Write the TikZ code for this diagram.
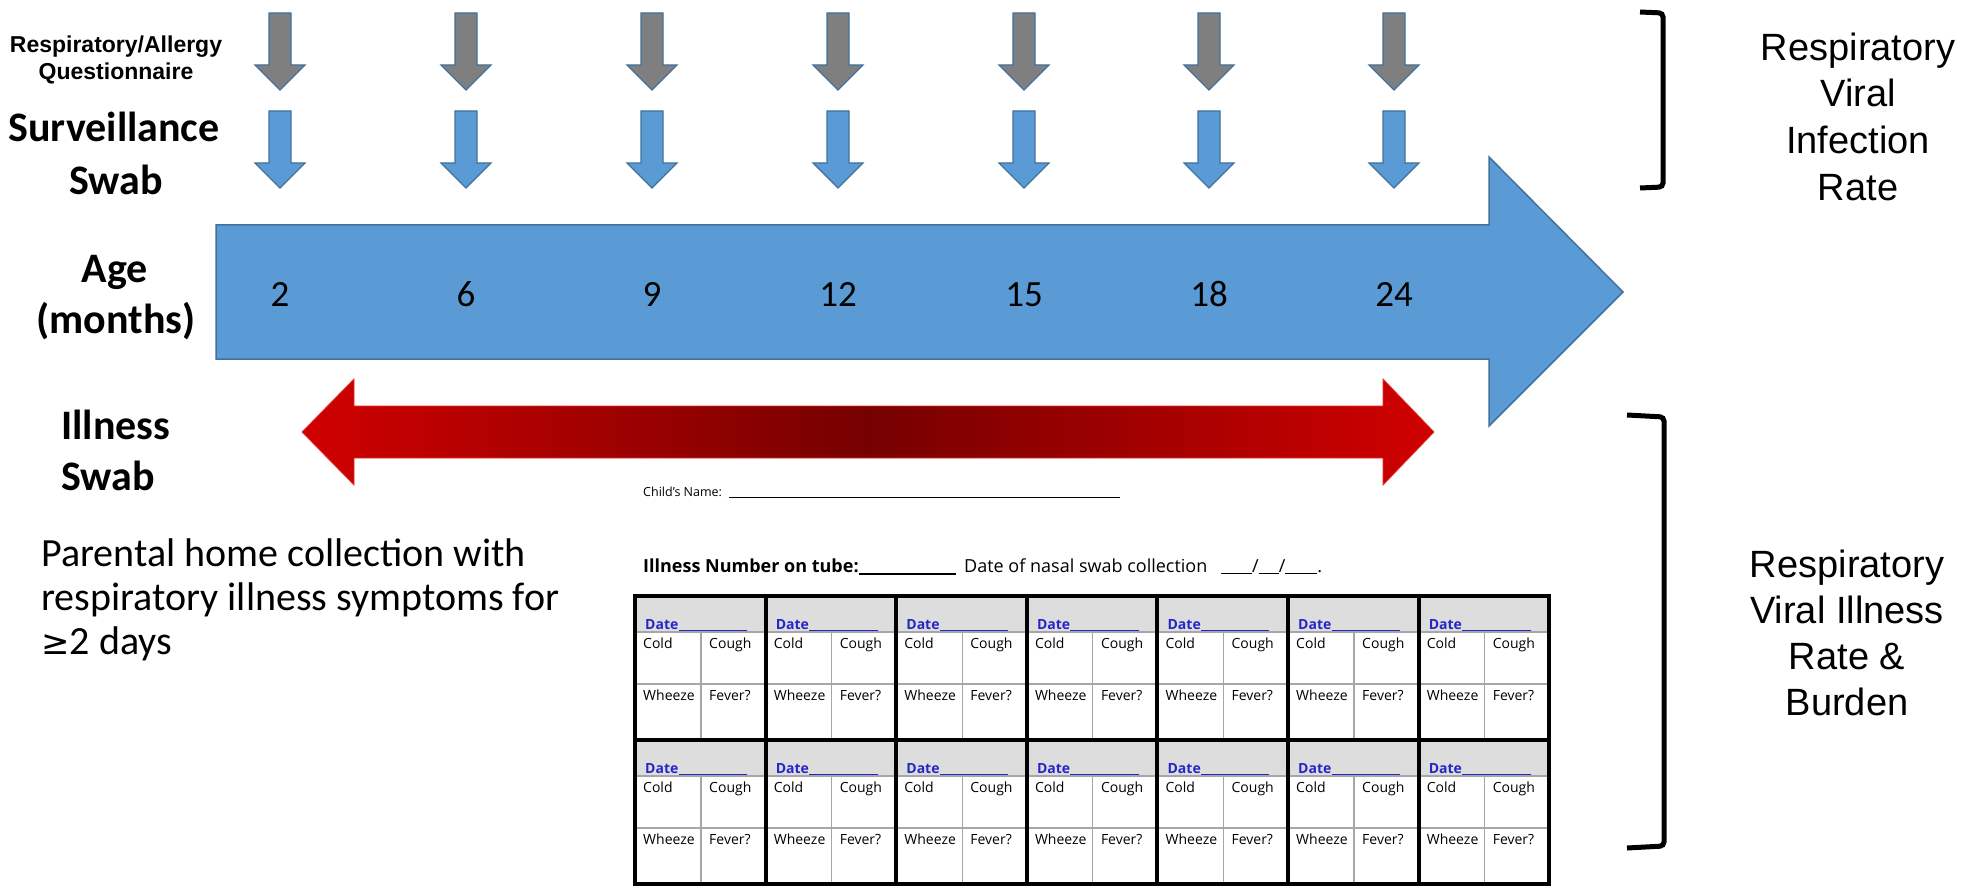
\documentclass[tikz,border=0pt]{standalone}
\usepackage{fontspec}
\setmainfont{Carlito}
\newfontfamily\arialfont{Liberation Sans}
\newfontfamily\formfont{Open Sans}
\newfontfamily\symfont{DejaVu Sans}
\definecolor{arrowblue}{HTML}{5B9BD5}
\definecolor{arrowedge}{HTML}{41719C}
\definecolor{arrowgray}{HTML}{7F7F7F}
\definecolor{redlight}{HTML}{D00000}
\definecolor{reddark}{HTML}{760000}
\definecolor{rededge}{HTML}{E83030}
\definecolor{hdrgray}{HTML}{DDDDDD}
\definecolor{thingray}{HTML}{A6A6A6}
\definecolor{dateblue}{HTML}{2626C8}
\tikzset{
  grayarr/.style={fill=arrowgray, draw=arrowedge, line width=1.2pt},
  bluearr/.style={fill=arrowblue, draw=arrowedge, line width=1.2pt},
  bigarr/.style={fill=arrowblue, draw=arrowedge, line width=1.5pt},
  lblbold/.style={font=\bfseries\fontsize{42}{50}\selectfont, anchor=base},
  lblq/.style={font=\arialfont\bfseries\fontsize{23}{28}\selectfont, anchor=base},
  agenum/.style={font=\fontsize{37}{44}\selectfont, anchor=base},
  para/.style={font=\fontsize{40}{47}\selectfont, anchor=base west},
  outcome/.style={font=\arialfont\fontsize{38}{47}\selectfont, anchor=base},
  bracketline/.style={line width=5pt, rounded corners=4pt},
  formtxt/.style={font=\formfont\fontsize{14}{17}\selectfont, anchor=base west},
  datetxt/.style={font=\formfont\bfseries\fontsize{14}{17}\selectfont, text=dateblue, anchor=base west},
  thickgrid/.style={line width=4pt},
  thingrid/.style={line width=1.2pt, draw=thingray},
}
\begin{document}
\begin{tikzpicture}[x=1pt,y=-1pt, every node/.style={inner sep=0pt}]
\useasboundingbox[fill=white] (0,0) rectangle (1961,893);

% small arrows
\foreach \x in {280,466,652,838,1024,1209,1394} {
  \filldraw[grayarr] (\x-11,13) -- (\x+11,13) -- (\x+11,65) -- (\x+25,65) -- (\x,90) -- (\x-25,65) -- (\x-11,65) -- cycle;
  \filldraw[bluearr] (\x-11,111) -- (\x+11,111) -- (\x+11,163) -- (\x+25,163) -- (\x,188) -- (\x-25,163) -- (\x-11,163) -- cycle;
}

% big timeline arrow
\filldraw[bigarr] (216,225) -- (1489,225) -- (1489,157) -- (1623,292) -- (1489,426) -- (1489,359) -- (216,359) -- cycle;
\foreach \x/\t [count=\i] in {280/2,466/6,652/9,838/12,1024/15,1209/18,1394/24} {
  \node[agenum] (age\i) at (\x,306) {\t};
}

% red double arrow
\shade[left color=redlight, right color=redlight, middle color=reddark]
  (302,432) -- (354,379) -- (354,406) -- (1383,406) -- (1383,379) -- (1434,432) -- (1383,485) -- (1383,458) -- (354,458) -- (354,485) -- cycle;
\draw[rededge, line width=0.8pt]
  (302,432) -- (354,379) -- (354,406) -- (1383,406) -- (1383,379) -- (1434,432) -- (1383,485) -- (1383,458) -- (354,458) -- (354,485) -- cycle;

% left labels
\node[lblq] (q1) at (116,53) {Respiratory/Allergy};
\node[lblq] (q2) at (116,80) {Questionnaire};
\node[lblbold] (s1) at (114,142) {Surveillance};
\node[lblbold] (s2) at (116,195) {Swab};
\node[lblbold] (a1) at (115,283) {Age};
\node[lblbold] (a2) at (116,333) {(months)};
\node[lblbold, anchor=base west] (i1) at (61,439) {Illness};
\node[lblbold, anchor=base west] (i2) at (61,490) {Swab};
\node[para] (p1) at (41,566) {Parental home collection with};
\node[para] (p2) at (41,610) {respiratory illness symptoms for};
\node[para] (p3) at (41,654) {{\symfont\fontsize{34}{40}\selectfont ≥}2 days};

% right brackets and outcomes
\draw[bracketline] (1640,12) -- (1663,13) -- (1663,187) -- (1640,188);
\draw[bracketline] (1627,415) -- (1664,417) -- (1664,846) -- (1627,848);
\node[outcome] (o1) at (1858,61) {Respiratory};
\node[outcome] (o2) at (1858,107) {Viral};
\node[outcome] (o3) at (1858,154) {Infection};
\node[outcome] (o4) at (1858,201) {Rate};
\node[outcome] (b1) at (1847,577) {Respiratory};
\node[outcome] (b2) at (1847,623) {Viral Illness};
\node[outcome] (b3) at (1847,669) {Rate \&};
\node[outcome] (b4) at (1847,715) {Burden};

% form header
\node[font=\formfont\fontsize{12.5}{15}\selectfont, anchor=base west] (cname) at (643,496) {Child’s Name:};
\draw[line width=1pt] (729,497) -- (1120,497);
\node[font=\formfont\bfseries\fontsize{18}{22}\selectfont, anchor=base west] (inum) at (643,572) {Illness Number on tube:};
\draw[line width=1.2pt] (inum.base east) ++(0,2) -- (956,574);
\node[font=\formfont\fontsize{18}{22}\selectfont, anchor=base west] (dnasal) at (964,572) {Date of nasal swab collection};
\node[font=\formfont\fontsize{18}{22}\selectfont, anchor=base west] (dslash) at (1221,572) {\rule[-2pt]{31pt}{1.2pt}/\rule[-2pt]{20pt}{1.2pt}/\rule[-2pt]{32pt}{1.2pt}.};

% form table
\foreach \r/\y in {0/596,1/740} {
  \foreach \c in {0,...,6} {
    \pgfmathsetmacro\cx{635+\c*130.6}
    \fill[hdrgray] (\cx,\y) rectangle (\cx+130.6,\y+36);
    \draw[thingrid] (\cx,\y+36) -- (\cx+130.6,\y+36);
    \draw[thingrid] (\cx,\y+88) -- (\cx+130.6,\y+88);
    \draw[thingrid] (\cx+66,\y+36) -- (\cx+66,\y+144);
    \node[datetxt] (date\r\c) at (\cx+10,\y+33) {Date};
    \draw[dateblue, line width=1pt] (date\r\c.base east) ++(0,1.5) -- (\cx+112,\y+34.5);
    \node[formtxt] (cold\r\c) at (\cx+8,\y+52) {Cold};
    \node[formtxt] (cough\r\c) at (\cx+74,\y+52) {Cough};
    \node[formtxt] (wheeze\r\c) at (\cx+8,\y+104) {Wheeze};
    \node[formtxt] (fever\r\c) at (\cx+74,\y+104) {Fever?};
  }
}
\draw[thickgrid] (635,596) rectangle (1549,884);
\draw[thickgrid] (635,740) -- (1549,740);
\foreach \c in {1,...,6} {
  \draw[thickgrid] (635+\c*130.6,596) -- (635+\c*130.6,884);
}
\end{tikzpicture}
\end{document}
